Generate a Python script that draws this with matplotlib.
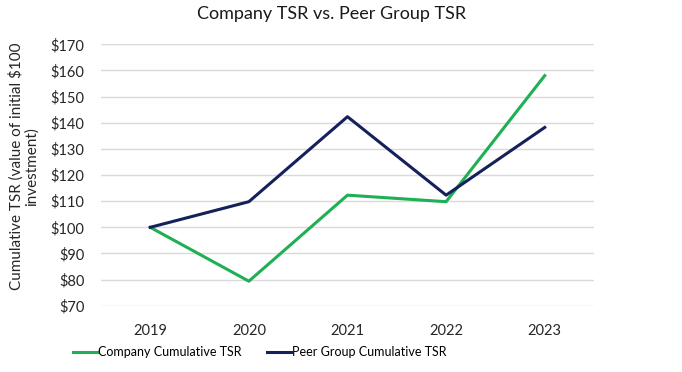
import matplotlib.pyplot as plt

plt.rcParams['font.family'] = ['Lato', 'DejaVu Sans']

years = ['2019', '2020', '2021', '2022', '2023']
company_tsr = [100, 79.4, 112.3, 109.8, 158]
peer_tsr = [100, 109.8, 142.3, 112.3, 138.2]
y_ticks = [70, 80, 90, 100, 110, 120, 130, 140, 150, 160, 170]

fig = plt.figure(figsize=(6.82, 3.72), dpi=100)
ax = fig.add_axes([0.148, 0.178, 0.723, 0.703])

x = range(len(years))
ax.plot(x, company_tsr, color='#1FAF55', lw=2.2, label='Company Cumulative TSR')
ax.plot(x, peer_tsr, color='#14215A', lw=2.2, label='Peer Group Cumulative TSR')

ax.set_xlim(-0.5, len(years) - 0.5)
ax.set_ylim(70, 170)
ax.set_yticks(y_ticks)
ax.set_yticklabels([f'${v}' for v in y_ticks])
ax.set_xticks(list(x))
ax.set_xticklabels(years)
ax.yaxis.grid(True, color='#D9D9D9', lw=1)
ax.set_axisbelow(True)
for s in ax.spines.values():
    s.set_visible(False)
ax.tick_params(length=0, labelsize=10.5, colors='#262626')
ax.tick_params(axis='x', pad=13)
ax.tick_params(axis='y', pad=12)

fig.text(0.486, 0.962, 'Company TSR vs. Peer Group TSR', ha='center', va='center',
         fontsize=13, color='#1a1a1a')
fig.text(0.035, 0.553, 'Cumulative TSR (value of initial $100\ninvestment)',
         rotation=90, ha='center', va='center', fontsize=11, color='#262626',
         multialignment='center', linespacing=1.1)

fig.legend(loc='center', bbox_to_anchor=(0.381, 0.054), ncol=2, frameon=False,
           fontsize=9.0, handlelength=1.9, handletextpad=0.1, columnspacing=2.0)

fig.savefig('out.png', dpi=100)
